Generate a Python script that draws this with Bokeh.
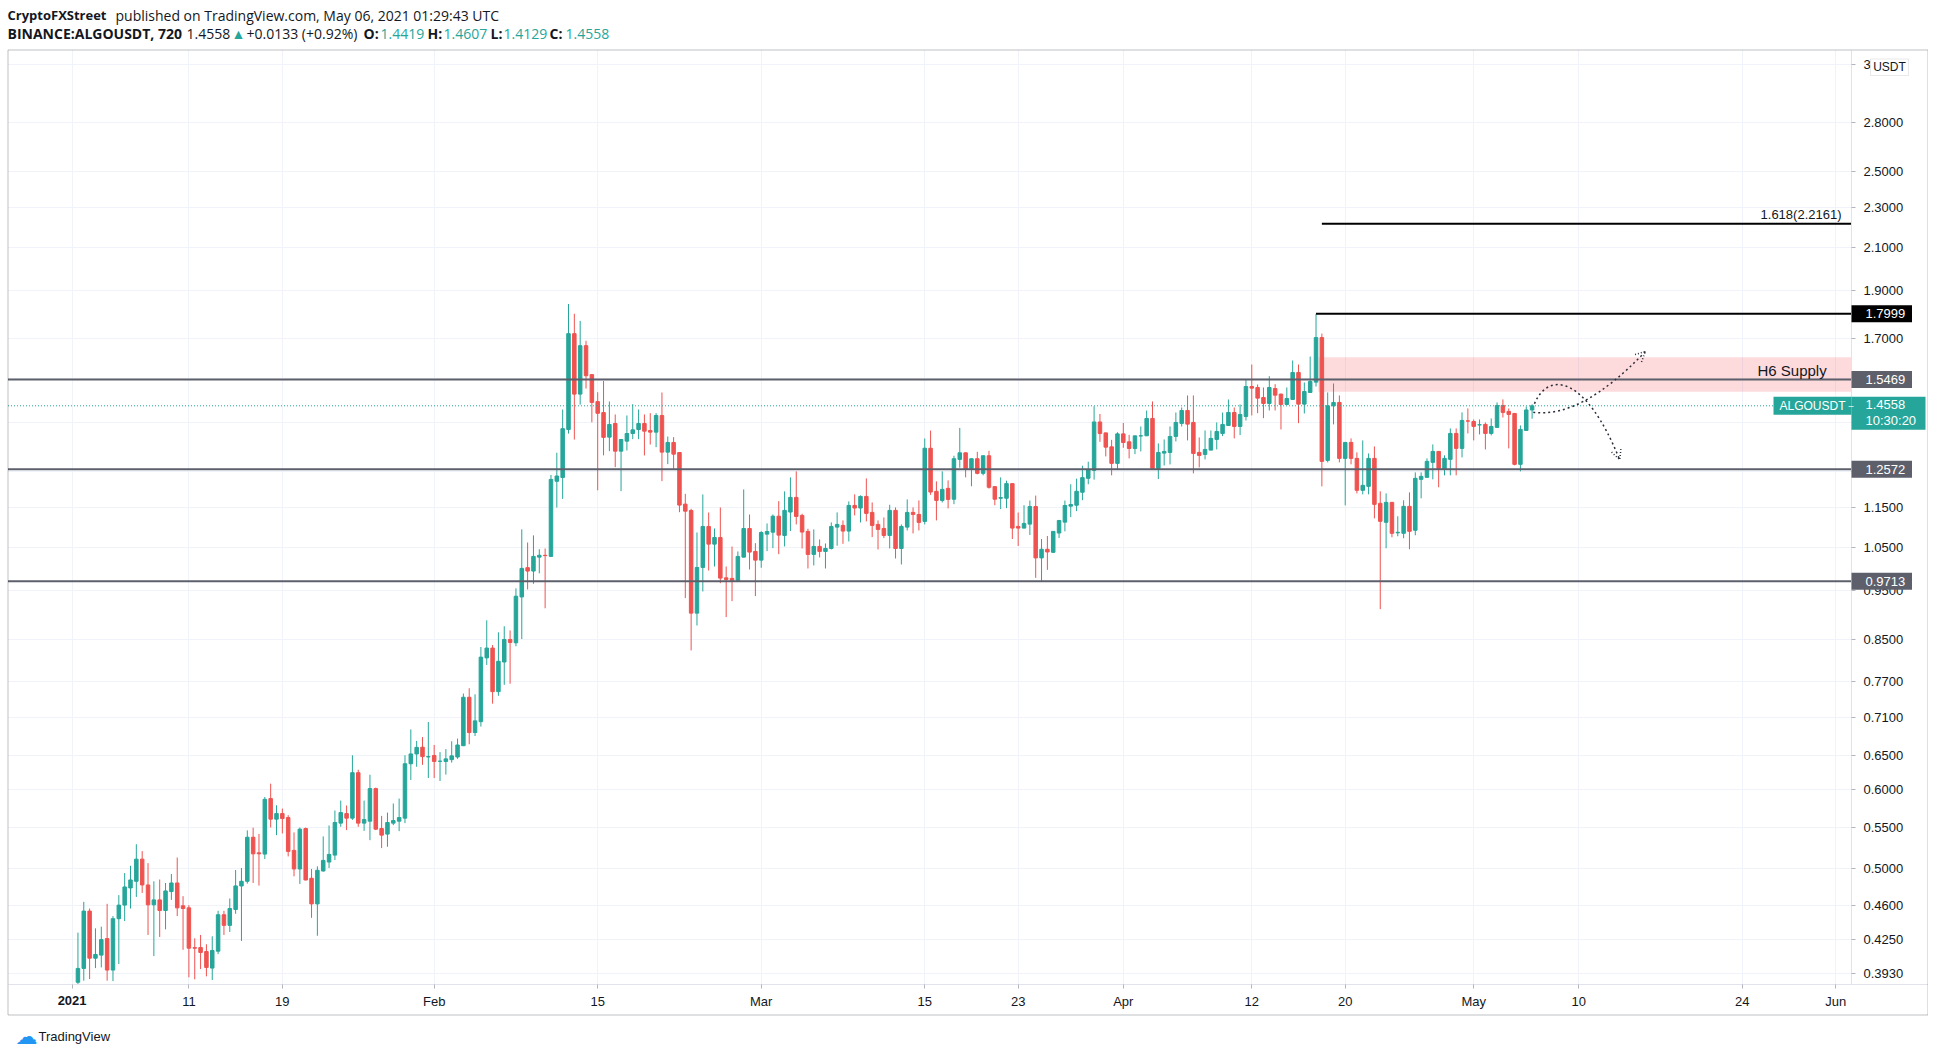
import math
import numpy as np
import pandas as pd
from bokeh.plotting import figure
from bokeh.models import (FixedTicker, Range1d, BoxAnnotation, Label, Arrow,
                          OpenHead, NumeralTickFormatter, ColumnDataSource)
from bokeh.embed import file_html
from bokeh.resources import INLINE

# ---------------- data (12h candles, ALGOUSDT, Binance) ----------------
first_candle = "2021-01-01 12:00"
open_ = [0.385, 0.3975, 0.4537, 0.4070, 0.4099, 0.4258, 0.3960, 0.4458, 0.4600, 0.4786,
         0.4860, 0.5115, 0.4819, 0.4603, 0.4656, 0.4543, 0.4746, 0.4841, 0.4593, 0.4571,
         0.4170, 0.4171, 0.4133, 0.3978, 0.4136, 0.4499, 0.4390, 0.4554, 0.4808, 0.4860,
         0.5380, 0.5190, 0.5175, 0.5882, 0.5609, 0.5682, 0.5630, 0.5219, 0.5000, 0.5489,
         0.4894, 0.4613, 0.4977, 0.5081, 0.5163, 0.5558, 0.5682, 0.5622, 0.6244, 0.5558,
         0.5583, 0.6019, 0.5489, 0.5419, 0.5558, 0.5583, 0.5622, 0.6374, 0.652, 0.6622,
         0.6475, 0.6497, 0.6410, 0.6408, 0.6435, 0.6474, 0.6645, 0.7431, 0.6850, 0.7024,
         0.8138, 0.8324, 0.7528, 0.8061, 0.8491, 0.8426, 0.9366, 1.0021, 0.9943, 1.0267,
         1.0310, 1.0285, 1.2231, 1.2338, 1.3785, 1.7194, 1.4956, 1.6724, 1.5644, 1.4699,
         1.4333, 1.3543, 1.3976, 1.3112, 1.3418, 1.3657, 1.3783, 1.3976, 1.3752, 1.3699,
         1.4236, 1.3082, 1.3378, 1.3071, 1.1603, 1.1435, 0.9023, 1.0026, 1.1020, 1.0580,
         1.0743, 0.9789, 0.9775, 0.9729, 1.0267, 1.0969, 1.0403, 1.0197, 1.0827, 1.0876,
         1.1285, 1.0794, 1.1393, 1.1785, 1.1305, 1.0895, 1.0332, 1.0524, 1.0403, 1.0475,
         1.1004, 1.1047, 1.0904, 1.1569, 1.1499, 1.1812, 1.1384, 1.1072, 1.0970, 1.0794,
         1.1437, 1.0475, 1.1004, 1.1384, 1.1331, 1.1149, 1.320, 1.1950, 1.1703, 1.2033,
         1.1735, 1.2865, 1.3062, 1.2591, 1.2884, 1.2457, 1.2973, 1.2082, 1.1762, 1.1762,
         1.2165, 1.1022, 1.0979, 1.1081, 1.1540, 1.0249, 1.0455, 1.0383, 1.0855, 1.1131,
         1.1549, 1.1574, 1.1926, 1.2315, 1.2543, 1.4025, 1.3676, 1.3243, 1.2747, 1.3645,
         1.3397, 1.3193, 1.3580, 1.3585, 1.4139, 1.2600, 1.3053, 1.3073, 1.3565, 1.3978,
         1.4402, 1.4010, 1.3073, 1.3013, 1.3144, 1.3471, 1.3658, 1.3911, 1.4335, 1.3880,
         1.4204, 1.5221, 1.5187, 1.4839, 1.4637, 1.5150, 1.4955, 1.4603, 1.4772, 1.5720,
         1.4614, 1.5013, 1.5375, 1.7041, 1.2836, 1.4558, 1.4671, 1.2895, 1.3379, 1.2895,
         1.1979, 1.2089, 1.2895, 1.1625, 1.1127, 1.1651, 1.0860, 1.0848, 1.1544, 1.0924,
         1.2286, 1.2343, 1.2777, 1.3104, 1.2582, 1.2866, 1.3659, 1.3195, 1.4060, 1.4041,
         1.3930, 1.3946, 1.3659, 1.3850, 1.4570, 1.4371, 1.4304, 1.2719, 1.3754, 1.4419]
high = [0.4317, 0.4635, 0.4564, 0.4360, 0.4377, 0.4614, 0.4485, 0.4707, 0.4953, 0.5037,
        0.5294, 0.5210, 0.5068, 0.4860, 0.4880, 0.4841, 0.4942, 0.5134, 0.4696, 0.4600,
        0.4261, 0.4294, 0.4203, 0.4281, 0.4540, 0.4540, 0.4671, 0.4988, 0.5011, 0.5466,
        0.5500, 0.5421, 0.5904, 0.6088, 0.5792, 0.5748, 0.5661, 0.5440, 0.5502, 0.5502,
        0.5000, 0.5031, 0.5390, 0.5528, 0.5722, 0.5855, 0.5788, 0.650, 0.6287, 0.5855,
        0.6215, 0.6032, 0.5652, 0.5695, 0.5815, 0.5882, 0.650, 0.690, 0.672, 0.6778,
        0.7018, 0.6656, 0.6547, 0.6593, 0.6714, 0.6755, 0.7495, 0.7587, 0.7482, 0.8345,
        0.8875, 0.8382, 0.8633, 0.8753, 0.8670, 0.9554, 1.0947, 1.0620, 1.0796, 1.0456,
        1.0474, 1.2412, 1.3064, 1.4433, 1.8413, 1.8003, 1.7709, 1.6914, 1.5650, 1.5021,
        1.5415, 1.4704, 1.4270, 1.3480, 1.4236, 1.4614, 1.4434, 1.4270, 1.4313, 1.4313,
        1.5011, 1.3563, 1.3543, 1.3080, 1.1882, 1.1478, 1.0868, 1.1865, 1.1382, 1.0969,
        1.1514, 1.0049, 1.0522, 1.0403, 1.2003, 1.1329, 1.0604, 1.0901, 1.1096, 1.1329,
        1.1684, 1.1950, 1.2342, 1.2514, 1.1349, 1.0962, 1.0945, 1.0695, 1.0597, 1.1124,
        1.1384, 1.1175, 1.1677, 1.1867, 1.1839, 1.2313, 1.1649, 1.1175, 1.1252, 1.1586,
        1.1516, 1.1072, 1.1730, 1.1516, 1.1703, 1.350, 1.375, 1.2229, 1.2514, 1.2257,
        1.2973, 1.3834, 1.3070, 1.2890, 1.3092, 1.2980, 1.3123, 1.2090, 1.2343, 1.2249,
        1.2170, 1.1381, 1.1574, 1.1700, 1.1834, 1.0706, 1.0780, 1.0900, 1.1183, 1.1700,
        1.2147, 1.2306, 1.2678, 1.2796, 1.4540, 1.4286, 1.3680, 1.3458, 1.3697, 1.3994,
        1.3613, 1.3590, 1.3880, 1.4402, 1.4705, 1.3347, 1.3471, 1.3880, 1.4335, 1.4502,
        1.4909, 1.4909, 1.3533, 1.3753, 1.3753, 1.4010, 1.4335, 1.4772, 1.4502, 1.4603,
        1.5469, 1.6013, 1.5292, 1.5187, 1.5588, 1.5303, 1.4977, 1.5187, 1.6162, 1.6013,
        1.5362, 1.6311, 1.7999, 1.7198, 1.5013, 1.5327, 1.4909, 1.3385, 1.3503, 1.3074,
        1.3441, 1.3044, 1.3256, 1.1952, 1.1895, 1.1655, 1.1282, 1.1706, 1.1922, 1.2485,
        1.2485, 1.2895, 1.3317, 1.3110, 1.2985, 1.3817, 1.3817, 1.4337, 1.4470, 1.4106,
        1.4106, 1.4010, 1.4139, 1.4671, 1.4773, 1.4470, 1.4310, 1.3913, 1.4536, 1.4607]
low = [0.383, 0.3864, 0.3879, 0.3978, 0.3984, 0.3864, 0.3860, 0.4015, 0.4434, 0.4564,
       0.4688, 0.4731, 0.4294, 0.4089, 0.4274, 0.4350, 0.4656, 0.4485, 0.4149, 0.3894,
       0.3876, 0.3969, 0.3903, 0.3870, 0.4108, 0.4294, 0.4324, 0.4509, 0.4235, 0.4834,
       0.4841, 0.4812, 0.5116, 0.5502, 0.5406, 0.5427, 0.5147, 0.4916, 0.4830, 0.4870,
       0.4467, 0.4286, 0.4970, 0.5011, 0.5104, 0.5511, 0.5469, 0.5600, 0.5511, 0.5460,
       0.5344, 0.5469, 0.5247, 0.5263, 0.5532, 0.5456, 0.5558, 0.614, 0.633, 0.6358,
       0.6168, 0.6168, 0.6125, 0.6216, 0.6391, 0.6446, 0.6640, 0.6667, 0.6796, 0.6945,
       0.8006, 0.7322, 0.7456, 0.7647, 0.7667, 0.8360, 0.8499, 0.9529, 0.9654, 0.9891,
       0.9125, 1.0280, 1.1512, 1.1743, 1.3654, 1.3466, 1.4597, 1.5150, 1.4013, 1.1979,
       1.2985, 1.3112, 1.2637, 1.1956, 1.3132, 1.3480, 1.3480, 1.2982, 1.3314, 1.3233,
       1.2236, 1.2725, 1.2589, 1.1390, 0.9341, 0.8279, 0.8770, 0.9486, 0.9956, 1.0049,
       0.9669, 0.8941, 0.9277, 0.9725, 1.0260, 0.9979, 0.9384, 1.0018, 1.0411, 1.0483,
       1.0338, 1.0524, 1.0904, 1.1072, 1.0475, 1.0002, 1.0072, 1.0259, 1.0002, 1.0451,
       1.0540, 1.0588, 1.0646, 1.1305, 1.1124, 1.1149, 1.0753, 1.0451, 1.0728, 1.0475,
       1.0235, 1.0095, 1.0920, 1.0845, 1.0920, 1.1072, 1.1853, 1.1175, 1.1649, 1.1490,
       1.1601, 1.2620, 1.2343, 1.2091, 1.2429, 1.2400, 1.2026, 1.1574, 1.1470, 1.1496,
       1.0706, 1.0535, 1.0975, 1.0805, 0.9789, 0.9714, 0.9970, 1.0367, 1.0730, 1.0896,
       1.1261, 1.1417, 1.1708, 1.2147, 1.2278, 1.3397, 1.2953, 1.2400, 1.2572, 1.3213,
       1.2894, 1.3022, 1.3103, 1.3580, 1.2595, 1.2293, 1.2686, 1.2716, 1.3409, 1.3880,
       1.3440, 1.2456, 1.2629, 1.2864, 1.3140, 1.3164, 1.3575, 1.3905, 1.3502, 1.3607,
       1.4074, 1.4238, 1.4313, 1.4150, 1.4402, 1.4402, 1.3785, 1.4600, 1.4770, 1.3987,
       1.4303, 1.5010, 1.5221, 1.2089, 1.2777, 1.3946, 1.2777, 1.1571, 1.2719, 1.1895,
       1.1868, 1.1868, 1.1229, 0.9107, 1.0480, 1.0749, 1.0774, 1.0725, 1.0456, 1.0799,
       1.1760, 1.2340, 1.2286, 1.2062, 1.2400, 1.2400, 1.2400, 1.2925, 1.3659, 1.3441,
       1.3628, 1.3164, 1.3597, 1.3845, 1.4171, 1.3195, 1.2690, 1.2515, 1.3750, 1.4129]
close = [0.3975, 0.4537, 0.4070, 0.4105, 0.4248, 0.3960, 0.4458, 0.4600, 0.4797, 0.4875,
         0.5115, 0.4819, 0.4603, 0.4656, 0.4543, 0.4753, 0.4841, 0.4571, 0.4564, 0.4165,
         0.4165, 0.4124, 0.3984, 0.4143, 0.4499, 0.4390, 0.4564, 0.4808, 0.4860, 0.5380,
         0.5178, 0.5178, 0.5872, 0.5609, 0.5682, 0.5617, 0.5207, 0.5000, 0.5481, 0.4875,
         0.4613, 0.4985, 0.5100, 0.5171, 0.5566, 0.5695, 0.5622, 0.6244, 0.5558, 0.5604,
         0.6019, 0.5481, 0.5406, 0.5566, 0.5591, 0.5630, 0.6374, 0.652, 0.662, 0.6480,
         0.6480, 0.6408, 0.6413, 0.6446, 0.6491, 0.6656, 0.7431, 0.6850, 0.7037, 0.8152,
         0.8324, 0.7528, 0.8075, 0.8491, 0.8433, 0.9382, 1.0004, 0.9943, 1.0285, 1.0312,
         1.0303, 1.2284, 1.2381, 1.3809, 1.7194, 1.4956, 1.6724, 1.5604, 1.4673, 1.4309,
         1.3536, 1.3944, 1.3112, 1.3470, 1.3657, 1.3773, 1.3976, 1.3730, 1.3699, 1.4236,
         1.3082, 1.3378, 1.3021, 1.1577, 1.1416, 0.9023, 1.0026, 1.1020, 1.0580, 1.0743,
         0.9782, 0.9752, 0.9729, 1.0284, 1.0969, 1.0388, 1.0197, 1.0868, 1.0893, 1.1285,
         1.0802, 1.1437, 1.1785, 1.1278, 1.0879, 1.0332, 1.0524, 1.0403, 1.0475, 1.1021,
         1.1072, 1.0904, 1.1569, 1.1499, 1.1812, 1.1358, 1.1047, 1.0945, 1.0794, 1.1437,
         1.0475, 1.1021, 1.1384, 1.1331, 1.1124, 1.320, 1.1931, 1.1703, 1.2005, 1.1730,
         1.2884, 1.3062, 1.2591, 1.2884, 1.2457, 1.2973, 1.2063, 1.1735, 1.1780, 1.2165,
         1.0979, 1.0979, 1.1098, 1.1540, 1.0249, 1.0455, 1.0391, 1.0896, 1.1174, 1.1566,
         1.1593, 1.1953, 1.2334, 1.2562, 1.4025, 1.3656, 1.3233, 1.2747, 1.3645, 1.3377,
         1.3193, 1.3583, 1.3585, 1.4139, 1.2600, 1.3073, 1.3103, 1.3565, 1.4010, 1.4402,
         1.3955, 1.3043, 1.2983, 1.3164, 1.3502, 1.3721, 1.3945, 1.4335, 1.3880, 1.4270,
         1.5221, 1.5163, 1.4818, 1.4637, 1.5187, 1.4920, 1.4603, 1.4806, 1.5720, 1.4614,
         1.5047, 1.5398, 1.7041, 1.2807, 1.4558, 1.4671, 1.2895, 1.3379, 1.2895, 1.1979,
         1.2117, 1.2895, 1.1597, 1.1152, 1.1651, 1.0848, 1.0873, 1.1544, 1.0898, 1.2315,
         1.2371, 1.2807, 1.3104, 1.2601, 1.2895, 1.3659, 1.3195, 1.4074, 1.4053, 1.3882,
         1.3936, 1.3659, 1.3882, 1.4570, 1.4337, 1.4271, 1.2719, 1.3786, 1.4419, 1.4558]

# axis ticks
x_tick_dates = ["2021-01-01", "2021-01-11", "2021-01-19", "2021-02-01", "2021-02-15",
                "2021-03-01", "2021-03-15", "2021-03-23", "2021-04-01", "2021-04-12",
                "2021-04-20", "2021-05-01", "2021-05-10", "2021-05-24", "2021-06-01"]
x_tick_labels = ["2021", "11", "19", "Feb", "15", "Mar", "15", "23", "Apr", "12",
                 "20", "May", "10", "24", "Jun"]
y_ticks = [0.393, 0.425, 0.46, 0.5, 0.55, 0.6, 0.65, 0.71, 0.77, 0.85, 0.95, 1.05,
           1.15, 1.25, 1.4, 1.55, 1.7, 1.9, 2.1, 2.3, 2.5, 2.8, 3.2]

# drawn levels
support_resistance = [1.5469, 1.2572, 0.9713]
swing_high = 1.7999
fib_target = 2.2161
last_price = 1.4558
supply_zone = (1.5037, 1.6287)
level_start = "2021-04-17 12:00"

# projection paths (days since 2021-01-01, price)
up_path = dict(x0=125.1, y0=1.4345, cx=129.2, cy=1.4123, x1=134.7, y1=1.6502)
down_path = dict(x0=125.2, y0=1.4626, cx0=126.4, cy0=1.5795, cx1=129.6, cy1=1.5613,
                 x1=132.5, y1=1.2853)

# ---------------- layout helpers (screen px -> data) ----------------
W, H = 1928, 1050
X_PX0, PX_PER_DAY = 71.6, 11.68            # px of 2021-01-01, px per day
Y_REF_PX, Y_REF, PX_PER_LN = 379.0, 1.5469, 433.4
def xd(px):
    return (px - X_PX0) / PX_PER_DAY
def yd(px):
    return Y_REF * math.exp(-(px - Y_REF_PX) / PX_PER_LN)
def ypx(price):
    return Y_REF_PX - math.log(price / Y_REF) * PX_PER_LN

FR_L, FR_T, FR_R, FR_B = 7.5, 49.5, 1851.0, 984.0   # chart pane
OUT_R, OUT_B = 1927.5, 1014.5                       # outer frame

# ---------------- derived ----------------
day0 = pd.Timestamp("2021-01-01")
n = len(open_)
times = pd.Timestamp(first_candle) + pd.to_timedelta(np.arange(n) * 12, unit="h")
xdays = ((times - day0) / pd.Timedelta(days=1)).to_numpy()
o = np.array(open_); h = np.array(high); l = np.array(low); c = np.array(close)
UP, DOWN = "#26a69a", "#ef5350"
colors = [UP if cc >= oo else DOWN for oo, cc in zip(o, c)]
src = ColumnDataSource(dict(x=xdays, h=h, l=l, top=np.maximum(o, c), bottom=np.minimum(o, c),
                            color=colors))
x_ticks = [float((pd.Timestamp(d) - day0) / pd.Timedelta(days=1)) for d in x_tick_dates]
lvl_x = float((pd.Timestamp(level_start) - day0) / pd.Timedelta(days=1))

p = figure(width=W, height=H, x_range=Range1d(xd(0), xd(W)), y_range=Range1d(yd(H), yd(0)),
           y_axis_type="log", y_axis_location="right", output_backend="svg",
           toolbar_location=None, min_border_left=0, min_border_right=0,
           min_border_top=0, min_border_bottom=0)
p.outline_line_color = None
p.background_fill_color = "white"
p.border_fill_color = "white"

AX_FONT = "Liberation Sans"
ya = p.yaxis[0]
ya.fixed_location = xd(FR_R)
ya.bounds = (yd(FR_B), yd(FR_T))
ya.ticker = FixedTicker(ticks=y_ticks)
ya.formatter = NumeralTickFormatter(format="0.0000")
ya.minor_tick_line_color = None
ya.major_tick_out = 4
ya.major_tick_in = 0
ya.major_tick_line_color = "#b2b5be"
ya.axis_line_color = "#e0e3eb"
ya.major_label_text_font = AX_FONT
ya.major_label_text_font_size = "13px"
ya.major_label_text_color = "#131722"
ya.major_label_standoff = 8

xa = p.xaxis[0]
xa.fixed_location = yd(FR_B)
xa.bounds = (xd(FR_L), xd(OUT_R))
xa.ticker = FixedTicker(ticks=x_ticks)
overrides = {t: lab for t, lab in zip(x_ticks, x_tick_labels)}
overrides[x_ticks[0]] = ""
xa.major_label_overrides = overrides
xa.minor_tick_line_color = None
xa.major_tick_out = 4
xa.major_tick_in = 0
xa.major_tick_line_color = "#b2b5be"
xa.axis_line_color = "#e0e3eb"
xa.major_label_text_font = AX_FONT
xa.major_label_text_font_size = "13px"
xa.major_label_text_color = "#131722"
xa.major_label_standoff = 5
p.add_layout(Label(x=x_ticks[0], y=yd(999.5), text=x_tick_labels[0], text_align="center",
                   text_baseline="middle", text_font=AX_FONT, text_font_size="13px",
                   text_font_style="bold", text_color="#131722"))

p.xgrid.grid_line_color = "#f0f3fa"
p.ygrid.grid_line_color = "#f0f3fa"
# keep the grid inside the chart pane
for kw in [dict(left=xd(FR_R)), dict(bottom=yd(FR_T)), dict(top=yd(FR_B)), dict(right=xd(FR_L))]:
    p.add_layout(BoxAnnotation(fill_color="white", fill_alpha=1, line_color=None,
                               level="underlay", **kw))

# supply zone
p.add_layout(BoxAnnotation(left=lvl_x + 0.2, right=xd(FR_R), bottom=supply_zone[0],
                           top=supply_zone[1], fill_color="#f23645", fill_alpha=0.18,
                           line_color=None, level="underlay"))

# candles
p.segment("x", "h", "x", "l", source=src, line_color="color", line_width=1)
p.vbar(x="x", width=0.3, top="top", bottom="bottom", source=src,
       fill_color="color", line_color="color", line_width=1)

# levels
n_lv = len(support_resistance)
p.segment(x0=[xd(FR_L)] * n_lv, y0=support_resistance, x1=[xd(FR_R)] * n_lv,
          y1=support_resistance, line_color="#5d606b", line_width=2)
p.segment(x0=[lvl_x, lvl_x + 0.5], y0=[swing_high, fib_target], x1=[xd(FR_R)] * 2,
          y1=[swing_high, fib_target], line_color="black", line_width=2)
p.segment(x0=[xd(FR_L)], y0=[last_price], x1=[xd(FR_R)], y1=[last_price], line_color=UP,
          line_width=1, line_dash="1 2")

# projection curves
DOT = "#2a2e39"
p.quadratic(x0=[up_path["x0"]], y0=[up_path["y0"]], x1=[up_path["x1"]], y1=[up_path["y1"]],
            cx=[up_path["cx"]], cy=[up_path["cy"]], line_color=DOT, line_width=1.5,
            line_dash="2 3")
p.bezier(x0=[down_path["x0"]], y0=[down_path["y0"]], x1=[down_path["x1"]],
         y1=[down_path["y1"]], cx0=[down_path["cx0"]], cy0=[down_path["cy0"]],
         cx1=[down_path["cx1"]], cy1=[down_path["cy1"]], line_color=DOT, line_width=1.5,
         line_dash="2 3")
for (xs, ys, xe, ye) in [(up_path["x1"] - 1.0, up_path["y1"] * 0.975, up_path["x1"], up_path["y1"]),
                         (down_path["x1"] - 0.4, down_path["y1"] * 1.03, down_path["x1"], down_path["y1"])]:
    p.add_layout(Arrow(x_start=xs, y_start=ys, x_end=xe, y_end=ye, line_alpha=0,
                       end=OpenHead(size=10, line_color=DOT, line_width=1.5, line_dash="1 2")))

# annotation texts
p.add_layout(Label(x=xd(1841), y=yd(214), text="1.618(2.2161)", text_align="right",
                   text_baseline="middle", text_font_size="13px", text_font=AX_FONT,
                   text_color="#131722"))
p.add_layout(Label(x=xd(1757), y=yd(370), text="H6 Supply", text_baseline="middle",
                   text_font_size="15px", text_font=AX_FONT, text_color="#131722"))

# right-axis price tags
def tag(price, text, bg):
    py = ypx(price)
    p.add_layout(BoxAnnotation(left=xd(FR_R), right=xd(1911.5), top=yd(py - 8.5),
                               bottom=yd(py + 8.5), fill_color=bg, fill_alpha=1,
                               line_color=None, level="annotation"))
    p.add_layout(Label(x=xd(1865), y=price, text=text, text_color="white",
                       text_baseline="middle", text_font_size="13px", text_font=AX_FONT))

tag(swing_high, f"{swing_high:.4f}", "#000000")
for lv in support_resistance:
    tag(lv, f"{lv:.4f}", "#5d606b")

# last price tag (pane part + axis part)
py = ypx(last_price)
p.add_layout(BoxAnnotation(left=xd(1773), right=xd(FR_R), top=yd(py - 9), bottom=yd(py + 9),
                           fill_color=UP, fill_alpha=1, line_color=None, level="annotation"))
p.add_layout(BoxAnnotation(left=xd(FR_R), right=xd(1925), top=yd(py - 9), bottom=yd(py + 24),
                           fill_color=UP, fill_alpha=1, line_color=None, level="annotation"))
p.add_layout(Label(x=xd(1779), y=last_price, text="ALGOUSDT", text_color="white",
                   text_baseline="middle", text_font_size="12px", text_font=AX_FONT))
p.add_layout(Label(x=xd(1848), y=last_price, text="\u2013", text_color="white",
                   text_baseline="middle", text_font_size="9px", text_font=AX_FONT))
p.add_layout(Label(x=xd(1865), y=yd(py - 1), text=f"{last_price:.4f}", text_color="white",
                   text_baseline="middle", text_font_size="13px", text_font=AX_FONT))
p.add_layout(Label(x=xd(1865), y=yd(py + 15), text="10:30:20", text_color="white",
                   text_baseline="middle", text_font_size="13px", text_font=AX_FONT))

# USDT button
p.add_layout(BoxAnnotation(left=xd(1870), right=xd(1908), top=yd(58.5), bottom=yd(75),
                           fill_color="white", fill_alpha=1, line_color="#b2b5be",
                           line_width=1, level="annotation"))
p.add_layout(Label(x=xd(1889), y=yd(66.5), text="USDT", text_align="center",
                   text_color="#131722", text_baseline="middle", text_font_size="12px",
                   text_font=AX_FONT))

# outer frame
p.add_layout(BoxAnnotation(left=xd(FR_L), right=xd(OUT_R), top=yd(FR_T), bottom=yd(OUT_B),
                           fill_alpha=0, line_color="#2a2e39", line_width=1, level="overlay"))

# header
HF = "Open Sans"
def head(xpos, ypos, text, color="#131722", bold=False, size="14px"):
    p.add_layout(Label(x=xd(xpos), y=yd(ypos), text=text, text_color=color, text_font=HF,
                       text_font_size=size, text_font_style="bold" if bold else "normal",
                       text_baseline="middle"))

head(7, 14.5, "CryptoFXStreet", bold=True, size="13px")
head(115, 14.5, "published on TradingView.com, May 06, 2021 01:29:43 UTC")
head(7, 33, "BINANCE:ALGOUSDT, 720", bold=True)
head(186, 33, "1.4558")
head(231, 33, "\u25b2", color=UP)
head(246, 33, "+0.0133 (+0.92%)")
head(363, 33, "O:", bold=True)
head(380, 33, "1.4419", color=UP)
head(427, 33, "H:", bold=True)
head(443, 33, "1.4607", color=UP)
head(490, 33, "L:", bold=True)
head(503, 33, "1.4129", color=UP)
head(549, 33, "C:", bold=True)
head(565, 33, "1.4558", color=UP)

# footer logo
p.add_layout(Label(x=xd(15), y=yd(1036), text="\u2601", text_color="#2196f3",
                   text_font="DejaVu Sans", text_font_size="22px", text_baseline="middle"))
p.add_layout(Label(x=xd(38), y=yd(1036), text="TradingView", text_color="#131722",
                   text_font=AX_FONT, text_font_size="13px", text_baseline="middle"))

open("out.html", "w").write(file_html(p, INLINE))
